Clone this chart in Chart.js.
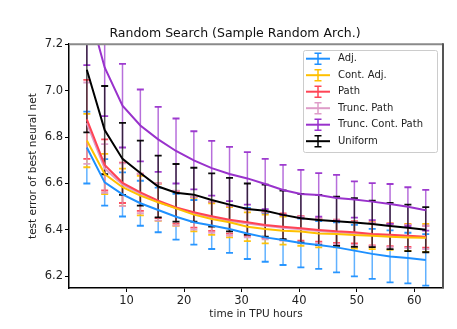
<!DOCTYPE html>
<html>
<head>
<meta charset="utf-8">
<script src="https://cdn.jsdelivr.net/npm/chart.js@4/dist/chart.umd.min.js"></script>
<style>
  html, body { margin: 0; padding: 0; background: #fff; }
  #wrap { width: 457px; height: 329px; }
</style>
</head>
<body>
<div id="wrap"><canvas id="chart" width="457" height="329"></canvas></div>
<script>
// time in TPU hours
const hours = [3.1, 6.2, 9.3, 12.4, 15.5, 18.6, 21.7, 24.8, 27.9, 31, 34.1, 37.2, 40.3, 43.4, 46.5, 49.6, 52.7, 55.8, 58.9, 62];

const adjMean = [6.755, 6.605, 6.553, 6.515, 6.486, 6.457, 6.433, 6.419, 6.404, 6.385, 6.368, 6.357, 6.344, 6.335, 6.325, 6.311, 6.297, 6.286, 6.279, 6.271];
const adjErr = [0.155, 0.1, 0.095, 0.097, 0.096, 0.099, 0.096, 0.101, 0.103, 0.11, 0.105, 0.108, 0.105, 0.103, 0.108, 0.111, 0.108, 0.112, 0.109, 0.111];

const contAdjMean = [6.785, 6.641, 6.584, 6.548, 6.519, 6.493, 6.466, 6.447, 6.433, 6.414, 6.404, 6.397, 6.393, 6.385, 6.383, 6.378, 6.375, 6.371, 6.368, 6.366];
const contAdjErr = [0.115, 0.087, 0.08, 0.085, 0.08, 0.075, 0.072, 0.068, 0.065, 0.062, 0.062, 0.06, 0.061, 0.06, 0.058, 0.058, 0.058, 0.057, 0.058, 0.06];

const pathMean = [6.876, 6.68, 6.603, 6.562, 6.526, 6.497, 6.476, 6.459, 6.444, 6.433, 6.421, 6.414, 6.407, 6.4, 6.394, 6.39, 6.383, 6.379, 6.375, 6.371];
const pathErr = [0.17, 0.11, 0.087, 0.08, 0.075, 0.07, 0.066, 0.063, 0.06, 0.058, 0.056, 0.057, 0.053, 0.05, 0.05, 0.048, 0.05, 0.049, 0.048, 0.047];

const truncPathMean = [6.86, 6.665, 6.595, 6.557, 6.52, 6.494, 6.472, 6.455, 6.44, 6.428, 6.418, 6.41, 6.403, 6.396, 6.39, 6.386, 6.38, 6.376, 6.372, 6.368];
const truncPathErr = [0.175, 0.105, 0.092, 0.085, 0.08, 0.075, 0.07, 0.067, 0.064, 0.06, 0.058, 0.056, 0.055, 0.054, 0.052, 0.05, 0.05, 0.05, 0.05, 0.05];

const truncContMean = [7.38, 7.1, 6.935, 6.85, 6.79, 6.74, 6.7, 6.666, 6.641, 6.622, 6.598, 6.572, 6.555, 6.551, 6.538, 6.531, 6.522, 6.512, 6.5, 6.485];
const truncContErr = [0.27, 0.21, 0.18, 0.155, 0.14, 0.14, 0.125, 0.118, 0.117, 0.113, 0.108, 0.108, 0.104, 0.094, 0.099, 0.078, 0.08, 0.086, 0.084, 0.088];

const uniformMean = [7.09, 6.83, 6.706, 6.645, 6.587, 6.56, 6.552, 6.529, 6.509, 6.49, 6.483, 6.465, 6.45, 6.443, 6.437, 6.432, 6.426, 6.417, 6.409, 6.401];
const uniformErr = [0.27, 0.19, 0.155, 0.14, 0.133, 0.124, 0.116, 0.115, 0.115, 0.11, 0.112, 0.105, 0.105, 0.108, 0.106, 0.105, 0.1, 0.1, 0.1, 0.097];

const xTicks = [10, 20, 30, 40, 50, 60];
const yTicks = [6.2, 6.4, 6.6, 6.8, 7.0, 7.2];

const FONT = "'DejaVu Sans', sans-serif";

function series(label, color, mean, err) {
  return {
    label: label,
    data: hours.map((h, i) => ({ x: h, y: mean[i] })),
    errors: err,
    borderColor: color,
    backgroundColor: color,
    borderWidth: 2,
    pointRadius: 0,
    tension: 0,
    fill: false
  };
}

const datasets = [
  series("Adj.", "#1E90FF", adjMean, adjErr),
  series("Cont. Adj.", "#FFC000", contAdjMean, contAdjErr),
  series("Path", "#FF4455", pathMean, pathErr),
  series("Trunc. Path", "#DE9CC8", truncPathMean, truncPathErr),
  series("Trunc. Cont. Path", "#9932CC", truncContMean, truncContErr),
  series("Uniform", "#000000", uniformMean, uniformErr)
];

function withAlpha(hex, a) {
  const n = parseInt(hex.slice(1), 16);
  return `rgba(${(n >> 16) & 255},${(n >> 8) & 255},${n & 255},${a})`;
}

// vertical error bars with caps, drawn under the mean lines
const errorBars = {
  id: "errorBars",
  beforeDatasetsDraw(chart) {
    const { ctx, chartArea, scales } = chart;
    ctx.save();
    ctx.beginPath();
    ctx.rect(chartArea.left, chartArea.top, chartArea.right - chartArea.left, chartArea.bottom - chartArea.top);
    ctx.clip();
    chart.data.datasets.forEach((ds) => {
      ds.data.forEach((p, i) => {
        const px = scales.x.getPixelForValue(p.x);
        const top = scales.y.getPixelForValue(p.y + ds.errors[i]);
        const bot = scales.y.getPixelForValue(p.y - ds.errors[i]);
        ctx.lineWidth = 1.5;
        ctx.strokeStyle = withAlpha(ds.borderColor, 0.7);
        ctx.beginPath();
        ctx.moveTo(px, top);
        ctx.lineTo(px, bot);
        ctx.stroke();
        ctx.lineWidth = 1.8;
        ctx.strokeStyle = withAlpha(ds.borderColor, 0.95);
        ctx.beginPath();
        ctx.moveTo(px - 3.5, top);
        ctx.lineTo(px + 3.5, top);
        ctx.moveTo(px - 3.5, bot);
        ctx.lineTo(px + 3.5, bot);
        ctx.stroke();
      });
    });
    ctx.restore();
  }
};

// top / right frame and legend box inside the plot
const frameAndLegend = {
  id: "frameAndLegend",
  afterDraw(chart) {
    const { ctx, chartArea } = chart;
    ctx.save();
    ctx.lineWidth = 2;
    ctx.strokeStyle = "#8a8a8a";
    ctx.beginPath();
    ctx.moveTo(chartArea.left, chartArea.top);
    ctx.lineTo(chartArea.right, chartArea.top);
    ctx.stroke();
    ctx.strokeStyle = "#555";
    ctx.beginPath();
    ctx.moveTo(chartArea.right, chartArea.top - 1);
    ctx.lineTo(chartArea.right, chartArea.bottom);
    ctx.stroke();

    // legend
    const bx = 303, by = 50, bw = 134, bh = 102;
    ctx.fillStyle = "rgba(255,255,255,0.85)";
    ctx.strokeStyle = "#cccccc";
    ctx.lineWidth = 1;
    ctx.beginPath();
    ctx.roundRect(bx + 0.5, by + 0.5, bw, bh, 2);
    ctx.fill();
    ctx.stroke();
    ctx.font = "10px " + FONT;
    ctx.textBaseline = "middle";
    ctx.textAlign = "left";
    chart.data.datasets.forEach((ds, i) => {
      const cy = 58.7 + i * 16.5;
      ctx.strokeStyle = ds.borderColor;
      ctx.lineWidth = 2;
      ctx.beginPath();
      ctx.moveTo(306, cy);
      ctx.lineTo(330, cy);
      ctx.stroke();
      ctx.lineWidth = 1.5;
      ctx.beginPath();
      ctx.moveTo(318, cy - 5.5);
      ctx.lineTo(318, cy + 5.5);
      ctx.moveTo(314.5, cy - 5.5);
      ctx.lineTo(321.5, cy - 5.5);
      ctx.moveTo(314.5, cy + 5.5);
      ctx.lineTo(321.5, cy + 5.5);
      ctx.stroke();
      ctx.fillStyle = "#222";
      ctx.fillText(ds.label, 338, cy);
    });
    ctx.restore();
  }
};

new Chart(document.getElementById("chart"), {
  type: "line",
  data: { datasets: datasets },
  options: {
    responsive: false,
    animation: false,
    layout: { padding: { left: 27, right: 14, top: 20, bottom: 8 } },
    plugins: {
      legend: { display: false },
      tooltip: { enabled: false },
      title: {
        display: true,
        text: "Random Search (Sample Random Arch.)",
        color: "#111",
        font: { family: FONT, size: 12.5, weight: "normal" },
        padding: { top: 6, bottom: 3.2 }
      }
    },
    scales: {
      x: {
        type: "linear",
        min: 0,
        max: 65,
        afterBuildTicks: (axis) => { axis.ticks = xTicks.map((v) => ({ value: v })); },
        afterFit: (axis) => { axis.height = 33; },
        grid: { drawOnChartArea: false, tickLength: 4, tickColor: "#000" },
        border: { color: "#000", width: 1.5 },
        ticks: { color: "#222", font: { family: FONT, size: 11.5 }, padding: 2, maxRotation: 0 },
        title: {
          display: true,
          text: "time in TPU hours",
          color: "#222",
          font: { family: FONT, size: 10.5 },
          padding: { top: 0, bottom: 0 }
        }
      },
      y: {
        type: "linear",
        min: 6.15,
        max: 7.2,
        afterBuildTicks: (axis) => { axis.ticks = yTicks.map((v) => ({ value: v })); },
        afterFit: (axis) => { axis.width = 42; },
        grid: { drawOnChartArea: false, tickLength: 4, tickColor: "#000" },
        border: { color: "#000", width: 1.5 },
        ticks: {
          color: "#222",
          font: { family: FONT, size: 11.5 },
          padding: 2,
          callback: (v) => v.toFixed(1)
        },
        title: {
          display: true,
          text: "test error of best neural net",
          color: "#222",
          font: { family: FONT, size: 10.5 },
          padding: { top: 0, bottom: 0 }
        }
      }
    }
  },
  plugins: [errorBars, frameAndLegend]
});
</script>
</body>
</html>
